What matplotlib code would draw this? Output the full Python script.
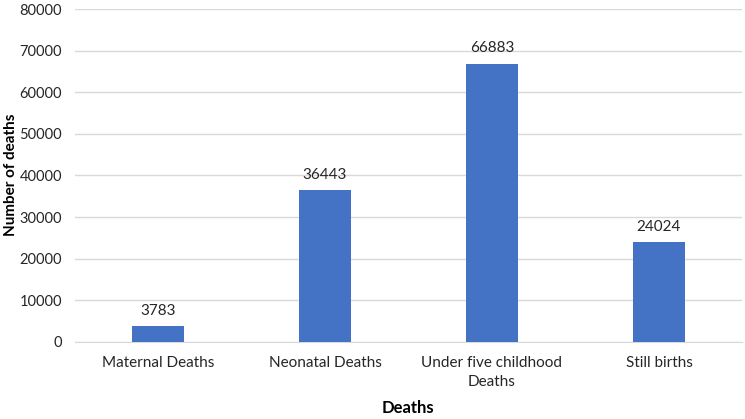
import matplotlib
matplotlib.use("Agg")
import matplotlib.pyplot as plt

categories = ["Maternal Deaths", "Neonatal Deaths", "Under five childhood\nDeaths", "Still births"]
values = [3783, 36443, 66883, 24024]
yticks = [0, 10000, 20000, 30000, 40000, 50000, 60000, 70000, 80000]

plt.rcParams['font.family'] = ['Lato', 'DejaVu Sans']

W, H = 745, 419
fig = plt.figure(figsize=(W / 100, H / 100), dpi=100)
ax = fig.add_axes([0.1, 0.1838, 0.8966, 0.7947])
x = list(range(len(categories)))
bars = ax.bar(x, values, width=0.31, color="#4472C4", zorder=3)
for xi, v in zip(x, values):
    ax.text(xi, v + 2000, str(v), ha="center", va="bottom", fontsize=11, color="#262626")
ax.set_xlim(-0.5, len(categories) - 0.5)
ax.set_ylim(0, 80000)
ax.set_yticks(yticks)
ax.set_yticklabels([str(t) for t in yticks], fontsize=10.5, color="#262626")
ax.set_xticks(x)
ax.set_xticklabels(categories, fontsize=11, color="#262626", linespacing=1.5)
ax.grid(axis="y", color="#D9D9D9", linewidth=1, zorder=0)
for s in ["top", "right", "left"]:
    ax.spines[s].set_visible(False)
ax.spines["bottom"].set_color("#D9D9D9")
ax.tick_params(axis="y", length=0, pad=9)
ax.tick_params(axis="x", length=0, pad=10)
fig.text(11 / W, 1 - 175 / H, "Number of deaths", rotation=90, ha="center", va="center",
         fontsize=11, fontweight="bold", color="black")
fig.text(408 / W, 1 - 408 / H, "Deaths", ha="center", va="center",
         fontsize=12, fontweight="bold", color="black")
fig.savefig("out.png", dpi=100)
